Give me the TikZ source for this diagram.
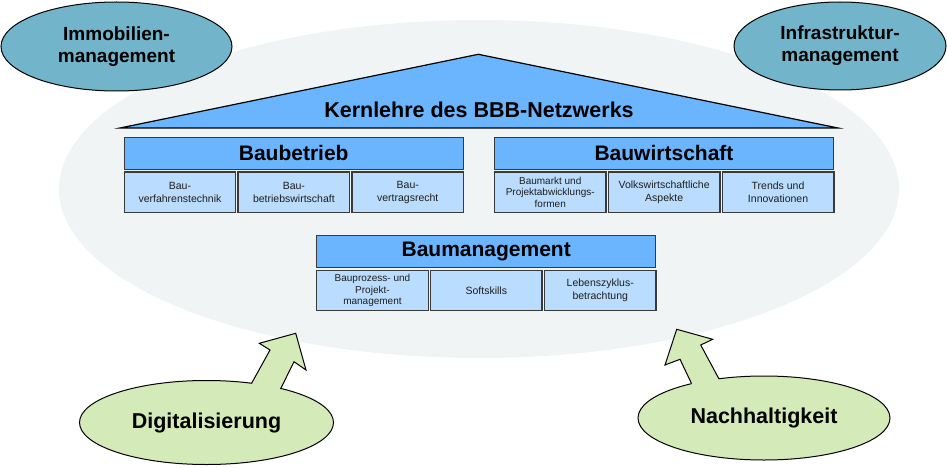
\documentclass[tikz,border=0pt]{standalone}
\usepackage{fontspec}
\setmainfont{Liberation Sans}
\usetikzlibrary{shapes.geometric,calc}
\definecolor{bgell}{HTML}{F1F4F5}
\definecolor{hdrfill}{HTML}{6BB4FE}
\definecolor{subfill}{HTML}{BADCFE}
\definecolor{topfill}{HTML}{72B5CB}
\definecolor{greenfill}{HTML}{D4EBB9}
\definecolor{boxline}{HTML}{3A3A3A}
\definecolor{subtext}{HTML}{1E1E1E}
\begin{document}
\begin{tikzpicture}[x=1pt,y=-1pt,
  hdr/.style={draw=boxline, line width=1.4pt, fill=hdrfill, rectangle, inner sep=0pt,
    minimum width=339pt, minimum height=32pt, anchor=north west,
    font=\fontsize{21}{25}\selectfont\bfseries},
  subbox/.style={draw=boxline, line width=1.4pt, fill=subfill, rectangle, inner sep=0pt,
    minimum width=111.5pt, minimum height=40.5pt, anchor=north west, align=center,
    text=subtext, font=\fontsize{10.5}{12.7}\selectfont},
  subsmall/.style={subbox, font=\fontsize{10}{11.7}\selectfont},
  topell/.style={ellipse, draw=black, line width=1pt, fill=topfill, inner sep=0pt, align=center,
    font=\fontsize{19}{22}\selectfont\bfseries},
  greenell/.style={ellipse, draw=black, line width=1pt, fill=greenfill, inner sep=0pt,
    font=\fontsize{21.5}{25}\selectfont\bfseries},
  arrowfill/.style={fill=greenfill},
  arrowline/.style={draw=black, line width=1pt, line join=miter},
]
\useasboundingbox (0,0) rectangle (947,468);
% background ellipse
\fill[bgell] (479,189) ellipse [x radius=420, y radius=169];

% top ellipses
\node[topell, minimum width=231pt, minimum height=89pt] (immo) at (116.5,46.5) {Immobilien-\\management};
\node[topell, minimum width=212pt, minimum height=88pt] (infra) at (840,46) {Infrastruktur-\\management};

% roof
\coordinate (roofL) at (120,128);
\coordinate (roofT) at (478.3,54.3);
\coordinate (roofR) at (838,128);
\draw[fill=hdrfill, line width=1.2pt, line join=miter] (roofL) -- (roofT) -- (roofR) -- cycle;
\node[font=\fontsize{21.5}{25}\selectfont\bfseries] (kern) at (479,110) {Kernlehre des BBB-Netzwerks};

% Baubetrieb
\node[hdr] (bb) at (123.5,136.5) {Baubetrieb};
\node[subbox] (bb1) at (123.5,171.2) {Bau-\\verfahrenstechnik};
\node[subbox] (bb2) at (237.4,171.2) {Bau-\\betriebswirtschaft};
\node[subbox] (bb3) at (351.3,171.2) {Bau-\\vertragsrecht};

% Bauwirtschaft
\node[hdr] (bw) at (493.8,136.5) {Bauwirtschaft};
\node[subsmall] (bw1) at (493.8,171.2) {Baumarkt und\\Projektabwicklungs-\\formen};
\node[subbox] (bw2) at (607.7,171.2) {Volkswirtschaftliche\\Aspekte};
\node[subbox] (bw3) at (721.6,171.2) {Trends und\\Innovationen};

% Baumanagement
\node[hdr] (bm) at (316,234.5) {Baumanagement};
\node[subsmall] (bm1) at (316,269.5) {Bauprozess- und\\Projekt-\\management};
\node[subbox] (bm2) at (429.9,269.5) {Softskills};
\node[subbox] (bm3) at (543.8,269.5) {Lebenszyklus-\\betrachtung};

% Digitalisierung ellipse with arrow
\node[greenell, minimum width=254pt, minimum height=84pt] (digi) at (206.5,422.5) {Digitalisierung};
\coordinate (dA) at (251.5,383.5);
\coordinate (dB) at (270,350);
\coordinate (dC) at (259.3,343.3);
\coordinate (dD) at (295.7,333.3);
\coordinate (dE) at (306,370);
\coordinate (dF) at (294,361.7);
\coordinate (dG) at (280.5,389);
\fill[arrowfill] ($(dA)+(0,3)$) -- (dA) -- (dB) -- (dC) -- (dD) -- (dE) -- (dF) -- (dG) -- ($(dG)+(0,3)$) -- cycle;
\draw[arrowline] (dA) -- (dB) -- (dC) -- (dD) -- (dE) -- (dF) -- (dG);

% Nachhaltigkeit ellipse with arrow
\node[greenell, minimum width=252pt, minimum height=84pt] (nach) at (764,418) {Nachhaltigkeit};
\coordinate (nA) at (691.5,383.5);
\coordinate (nB) at (680,359.3);
\coordinate (nC) at (665,365);
\coordinate (nD) at (676.7,329.3);
\coordinate (nE) at (712.7,339.3);
\coordinate (nF) at (700.7,345);
\coordinate (nG) at (719,379);
\fill[arrowfill] ($(nA)+(0,3)$) -- (nA) -- (nB) -- (nC) -- (nD) -- (nE) -- (nF) -- (nG) -- ($(nG)+(0,3)$) -- cycle;
\draw[arrowline] (nA) -- (nB) -- (nC) -- (nD) -- (nE) -- (nF) -- (nG);
\end{tikzpicture}
\end{document}
